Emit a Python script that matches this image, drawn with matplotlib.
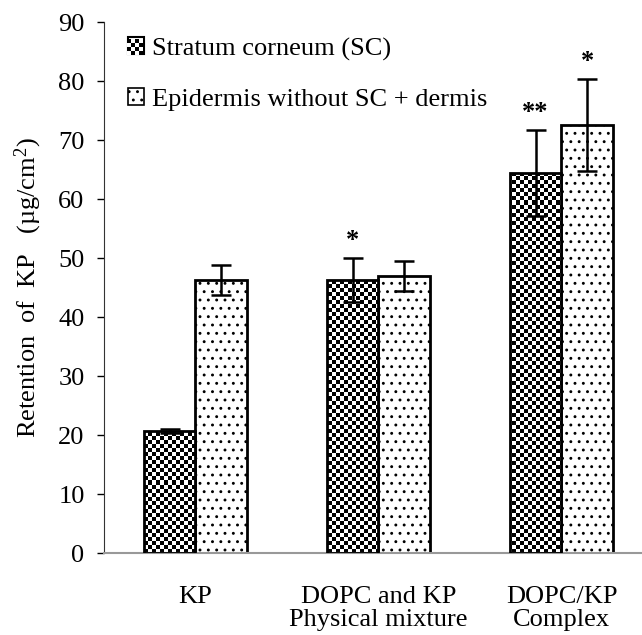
import numpy as np
import matplotlib
matplotlib.use("Agg")
import matplotlib.pyplot as plt
from matplotlib.patches import Rectangle

groups = ["KP", "DOPC and KP\nPhysical mixture", "DOPC/KP\nComplex"]
sc_vals = [20.7, 46.3, 64.5]
sc_err = [0.3, 3.7, 7.3]
epi_vals = [46.3, 47.0, 72.6]
epi_err = [2.5, 2.6, 7.8]
sc_marks = ["", "*", "**"]
epi_marks = ["", "", "*"]
series = ["Stratum corneum (SC)", "Epidermis without SC + dermis"]

plt.rcParams['font.family'] = ['Liberation Serif', 'DejaVu Serif']
plt.rcParams['mathtext.fontset'] = 'custom'
plt.rcParams['mathtext.rm'] = 'Liberation Serif'
plt.rcParams['hatch.color'] = '#8a8a8a'
plt.rcParams['hatch.linewidth'] = 0.9

fig = plt.figure(figsize=(6.42, 6.35), dpi=100)
ax = fig.add_axes([0.162, 0.129, 0.838, 0.836])

x = np.arange(len(groups))
w = 0.283
ymax = 90

# checker texture (approx 4 px cells)
px_x = 2.94 / (0.838 * 642)
px_y = ymax / (0.836 * 635)
cell = 4
nx = int(3.0 / (px_x * cell)) + 2
ny = int(ymax / (px_y * cell)) + 2
checker = (np.indices((ny, nx)).sum(axis=0) % 2).astype(float)

b1 = ax.bar(x - w / 2, sc_vals, w, color='white', edgecolor='black', linewidth=2, zorder=2)
b2 = ax.bar(x + w / 2, epi_vals, w, color='white', edgecolor='black', linewidth=2,
            hatch='..', zorder=2)

for r in b1:
    im = ax.imshow(checker, cmap='gray', extent=(-0.5, -0.5 + nx * px_x * cell, 0, ny * px_y * cell),
                   origin='lower', interpolation='nearest', aspect='auto', zorder=2.5)
    im.set_clip_path(r)
    r.set_zorder(3)
    r.set_facecolor('none')

ax.errorbar(x - w / 2, sc_vals, yerr=sc_err, fmt='none', ecolor='black', elinewidth=1.8,
            capsize=7, capthick=1.8, zorder=4)
ax.errorbar(x + w / 2, epi_vals, yerr=epi_err, fmt='none', ecolor='black', elinewidth=1.8,
            capsize=7, capthick=1.8, zorder=4)

for i in range(len(groups)):
    if sc_marks[i]:
        ax.text(x[i] - w / 2, sc_vals[i] + sc_err[i] + 1.0, sc_marks[i], ha='center',
                va='bottom', fontsize=19, fontweight='bold')
    if epi_marks[i]:
        ax.text(x[i] + w / 2, epi_vals[i] + epi_err[i] + 1.0, epi_marks[i], ha='center',
                va='bottom', fontsize=19, fontweight='bold')

ax.set_xlim(-0.5, 2.44)
ax.set_ylim(0, ymax)
ax.set_yticks(np.arange(0, 91, 10))
ax.set_xticks(x)
ax.set_xticklabels(groups, fontsize=19, linespacing=1.05)
ax.tick_params(axis='y', labelsize=19, direction='out', length=5, width=1, pad=9)
ax.tick_params(axis='x', length=0, pad=24)
for s in ['top', 'right']:
    ax.spines[s].set_visible(False)
ax.spines['left'].set_color('#333333')
ax.spines['bottom'].set_color('#999999')
ax.spines['bottom'].set_linewidth(1.5)
ax.set_ylabel("Retention  of  KP   ($\\mathrm{\u00b5g/cm^2}$)", fontsize=19, labelpad=10)

# legend
h1 = Rectangle((0, 0), 1, 1, facecolor='none', edgecolor='black', linewidth=1.5)
h2 = Rectangle((0, 0), 1, 1, facecolor='white', edgecolor='black', linewidth=1.2, hatch='..')
leg = ax.legend([h1, h2], series, loc='upper left', bbox_to_anchor=(0.0, 1.016), frameon=False,
                fontsize=19, handlelength=0.6, handleheight=0.6, handletextpad=0.3,
                labelspacing=1.05)

# checker pattern in the first legend key
fig.canvas.draw()
bb = leg.legend_handles[0].get_window_extent()
n = max(int(round(bb.width / 4)), 2)
key = (np.indices((n, n)).sum(axis=0) % 2).astype(float)
kim = fig.figimage(np.kron(key, np.ones((4, 4))), xo=int(bb.x0), yo=int(bb.y0),
                   cmap='gray', zorder=5)

fig.savefig("out.png", dpi=100)
